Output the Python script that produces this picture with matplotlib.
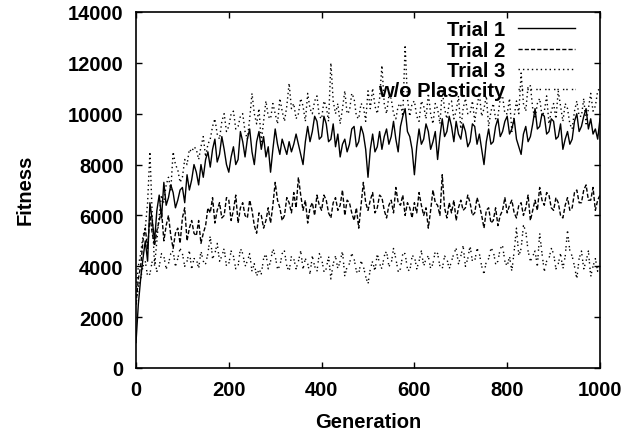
import numpy as np
import matplotlib
matplotlib.use("Agg")
import matplotlib.pyplot as plt

# values every 5 generations, 0..1000
trial1 = [1000, 2500, 3500, 4300, 5000, 4200, 6500, 5800, 5000, 6200,
          6800, 5900, 7300, 6400, 6700, 7200, 6900, 6300, 6600, 7000,
          7100, 6500, 7600, 7000, 7400, 8000, 7700, 7200, 8000, 7500,
          8200, 8500, 7900, 8600, 9000, 8100, 8400, 9100, 8600, 8000,
          7700, 8300, 8700, 8000, 8200, 9300, 8900, 8300, 9000, 9400,
          8500, 8000, 8900, 9300, 8600, 9100, 8300, 8700, 7700, 8600,
          9400, 8800, 8400, 9000, 8700, 8400, 8900, 8500, 8800, 9200,
          8800, 8400, 8000, 8900, 9500, 8900, 9300, 9900, 9700, 9000,
          9100, 9900, 9600, 8900, 9000, 9600, 8700, 9200, 8300, 8800,
          9000, 8500, 8800, 9400, 9500, 8700, 8900, 9500, 9200, 8600,
          7500, 8600, 9200, 8500, 8700, 9300, 8600, 9100, 9400, 8800,
          9100, 9700, 9000, 8500, 9500, 9900, 10200, 9300, 9100, 8600,
          7600, 8700, 9400, 8800, 9000, 9600, 9300, 8600, 8900, 9300,
          8200, 9100, 9800, 9100, 9300, 9900, 9500, 8900, 9700, 9200,
          9000, 9600, 9300, 8700, 8900, 9600, 9500, 8800, 9200, 8600,
          8000, 8900, 9400, 8800, 8900, 9500, 9800, 9100, 9300, 9700,
          9900, 9200, 9400, 9800, 9000, 8700, 8400, 9200, 9500, 8900,
          9100, 9600, 10200, 9400, 9500, 10000, 9900, 9200, 9300, 9800,
          9700, 9000, 9100, 9600, 8600, 9000, 9300, 8800, 9000, 9700,
          10000, 9300, 9500, 9900, 10200, 9400, 9800, 9200, 9400, 9000,
          9800]

trial2 = [2500, 3500, 4000, 5000, 5500, 4700, 6000, 5300, 4800, 5400,
          5800, 6200, 5000, 5600, 6000, 5200, 4700, 5300, 5500, 4900,
          5900, 6300, 5000, 5500, 5800, 5300, 5200, 5800, 4900, 5300,
          5600, 6300, 6100, 6700, 5700, 6200, 6500, 5900, 6000, 6700,
          6600, 5800, 6200, 6800, 5700, 6300, 6500, 6000, 5900, 6600,
          6200, 5600, 5300, 6100, 6000, 5500, 5800, 6300, 5700, 6400,
          7300, 6600, 6300, 5800, 6000, 6700, 6500, 6100, 6900, 6300,
          7500, 6800, 6200, 6600, 5700, 6300, 6500, 6000, 6800, 6400,
          6200, 6800, 6600, 6100, 5900, 6500, 6700, 6200, 6400, 7000,
          6000, 6600, 6500, 6100, 5800, 6300, 5500, 6400, 7300, 6500,
          6200, 6600, 6900, 6100, 6300, 6800, 6700, 6200, 5900, 6400,
          6600, 6100, 7100, 6500, 6400, 6800, 6000, 6500, 6300, 5900,
          6500, 6100, 6900, 6400, 6000, 6300, 5500, 6200, 7000, 6500,
          6400, 6000, 7600, 6300, 5900, 6500, 6100, 6600, 5800, 6300,
          6600, 6200, 6300, 6800, 6500, 6000, 6100, 6700, 6400, 6000,
          5500, 6200, 6300, 5700, 5800, 6300, 5600, 6000, 6200, 6700,
          6100, 6400, 6600, 6100, 5900, 6400, 6500, 6000, 6300, 6800,
          5800, 6200, 6600, 6200, 7100, 6600, 6400, 6900, 6800, 6300,
          6200, 6700, 6500, 6000, 5900, 6400, 6700, 6200, 6300, 6900,
          7000, 6500, 6500, 7000, 7200, 6600, 6600, 7100, 6200, 6600,
          6800]

trial3 = [3000, 4000, 4500, 5200, 5500, 6500, 8500, 6000, 4000, 5000,
          6000, 6800, 6500, 7200, 7500, 7000, 8500, 8000, 7800, 7300,
          7500, 8200, 8000, 8600, 8500, 8700, 8600, 8200, 8700, 9100,
          8300, 8800, 9000, 9500, 9800, 9200, 9000, 9700, 10000, 9300,
          9500, 10000, 10100, 9400, 9500, 9900, 10000, 9300, 9000, 9800,
          10800, 10000, 9600, 10200, 8900, 9700, 10500, 9900, 9800, 10400,
          10000, 9600, 10600, 10100, 9700, 10300, 11200, 10200, 10400, 9800,
          10000, 10600, 10300, 9700, 10800, 10200, 10000, 10500, 10700, 9900,
          9800, 10500, 10300, 9700, 12000, 10500, 10000, 10400, 9600, 10200,
          10900, 10000, 10100, 10800, 10600, 9900, 9800, 10400, 10300, 9700,
          10900, 10200, 11000, 10300, 10000, 10600, 11900, 10400, 10000, 10700,
          10600, 10000, 9800, 10300, 10400, 9900, 12700, 10600, 9900, 10400,
          10500, 9900, 9700, 10500, 10300, 9800, 10800, 10000, 9600, 10400,
          10200, 9600, 10900, 10200, 9800, 10400, 10500, 9800, 10100, 10700,
          9400, 10200, 10600, 10000, 10000, 10500, 9700, 10300, 10800, 9900,
          10200, 10700, 9500, 10100, 10400, 9800, 9900, 10600, 10700, 10000,
          10000, 10600, 9300, 9900, 10500, 10000, 11600, 10400, 10100, 11100,
          11100, 10200, 9800, 10400, 10600, 9900, 10100, 10700, 9600, 10100,
          10400, 9800, 10900, 10300, 9700, 10400, 10200, 9600, 9400, 10100,
          10500, 9900, 9900, 10600, 9600, 10200, 10800, 10100, 10300, 10900,
          11000]

no_plasticity = [2500, 3200, 3500, 4000, 4200, 3600, 3700, 4200, 4300, 3800,
                 4000, 4500, 4400, 3900, 4100, 4500, 4600, 4000, 4300, 4700,
                 4500, 4000, 4200, 4600, 3900, 4300, 4300, 3900, 4600, 4200,
                 4100, 4500, 5200, 4300, 4500, 4900, 4200, 4400, 4700, 4000,
                 4100, 4600, 4400, 3900, 4000, 4700, 4500, 4000, 4200, 4500,
                 3800, 4100, 3600, 3900, 3700, 4300, 4500, 3900, 4200, 4700,
                 4400, 3900, 4000, 4500, 4600, 4000, 3800, 4400, 4300, 3900,
                 4200, 4600, 3900, 4300, 4100, 3700, 4400, 4000, 3800, 4500,
                 4300, 3800, 3900, 4400, 3500, 4100, 4400, 3900, 4200, 4600,
                 3600, 4000, 4100, 4500, 4300, 3800, 3700, 4200, 4000, 3600,
                 3300, 3900, 4200, 3800, 4500, 4100, 3900, 4400, 4600, 4000,
                 4100, 4700, 4300, 3800, 3900, 4500, 4500, 3900, 3800, 4400,
                 4400, 3900, 4200, 4600, 4000, 4300, 4400, 3900, 4100, 4600,
                 4500, 4000, 3900, 4400, 4300, 3900, 4200, 4500, 4700, 4100,
                 4400, 4800, 4000, 4300, 4800, 4200, 4200, 4700, 4500, 4000,
                 3700, 4200, 4300, 4700, 4600, 4100, 4200, 4700, 4800, 4200,
                 4000, 4400, 3800, 4600, 5500, 4400, 4700, 5600, 5400, 4600,
                 4200, 4400, 4600, 4000, 5300, 4500, 3800, 4200, 4300, 4700,
                 4500, 3900, 4100, 4500, 3900, 4400, 5400, 4600, 4400, 4000,
                 3500, 4300, 4600, 3900, 4200, 4600, 3600, 4000, 4300, 3800,
                 4100]

labels = ["Trial 1", "Trial 2", "Trial 3", "w/o Plasticity"]
series = [trial1, trial2, trial3, no_plasticity]
styles = ["-", (0, (3, 1.5)), (0, (1, 2.2)), (0, (1, 1.4, 1, 3))]
xticks = [0, 200, 400, 600, 800, 1000]
yticks = [0, 2000, 4000, 6000, 8000, 10000, 12000, 14000]

plt.rcParams['font.family'] = ['Liberation Sans', 'DejaVu Sans']
FS = 14.5
FW = 'bold'

W, H = 639, 435
fig = plt.figure(figsize=(W / 100, H / 100), dpi=100)
L, R, B, T = 136, 600, 369, 13
ax = fig.add_axes([L / W, 1 - B / H, (R - L) / W, (B - T) / H])

for vals, ls in zip(series, styles):
    gens = np.linspace(0, 1000, len(vals))
    ax.plot(gens, vals, color='black', lw=1.0, linestyle=ls)

ax.set_xlim(0, 1000)
ax.set_ylim(0, 14000)
ax.set_xticks(xticks)
ax.set_yticks(yticks)
ax.tick_params(direction='in', length=4, width=1, top=True, right=True,
               labelsize=FS, pad=9, colors='black')
for lab in ax.get_xticklabels() + ax.get_yticklabels():
    lab.set_fontweight(FW)
for s in ax.spines.values():
    s.set_linewidth(1.2)

# legend drawn in axes coordinates (text first, sample line after)
row_px = [29, 50, 70, 90]
for lab, ls, py in zip(labels, styles, row_px):
    ya = (B - py) / (B - T)
    ax.text((505 - L) / (R - L), ya, lab, ha='right', va='center_baseline',
            fontsize=FS, fontweight=FW, transform=ax.transAxes)
    ax.plot([(518 - L) / (R - L), (575 - L) / (R - L)], [ya, ya],
            color='black', lw=1.0, linestyle=ls, transform=ax.transAxes,
            clip_on=False)

fig.text(25 / W, 1 - 190 / H, "Fitness", rotation=90, ha='center',
         va='center', fontsize=FS, fontweight=FW)
fig.text(368 / W, 1 - 428 / H, "Generation", ha='center', va='baseline',
         fontsize=FS, fontweight=FW)

fig.savefig("out.png", dpi=100)
